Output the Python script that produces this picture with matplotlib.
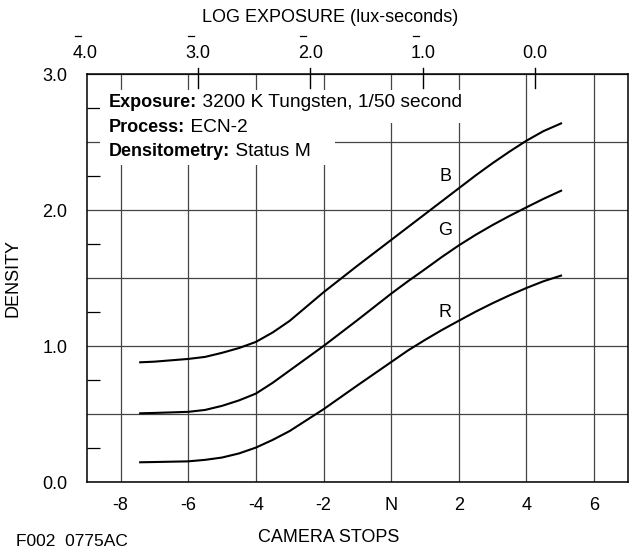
import matplotlib
matplotlib.use('Agg')
import matplotlib.pyplot as plt
from matplotlib.patches import Rectangle
import matplotlib.transforms as mtransforms
import numpy as np

plt.rcParams.update({'font.family': ['Liberation Sans', 'DejaVu Sans'], 'font.size': 13})
INK = '#000000'; GRID = '#444444'
FS = 13

# characteristic curves (camera stops -> density)
stops = [-7.45, -7, -6, -5.5, -5, -4.5, -4, -3.5, -3, -2.5, -2, -1, 0, 0.5, 1, 1.5, 2, 2.5, 3, 3.5, 4, 4.5, 5.05]
dens_b = [0.88, 0.885, 0.905, 0.92, 0.95, 0.985, 1.03, 1.10, 1.185, 1.29, 1.395, 1.59, 1.78, 1.875, 1.97, 2.065,
          2.16, 2.255, 2.345, 2.43, 2.51, 2.58, 2.64]
dens_g = [0.505, 0.508, 0.516, 0.53, 0.56, 0.60, 0.65, 0.73, 0.82, 0.91, 1.00, 1.19, 1.385, 1.477, 1.565, 1.655,
          1.74, 1.818, 1.89, 1.957, 2.02, 2.082, 2.145]
dens_r = [0.145, 0.147, 0.152, 0.163, 0.18, 0.21, 0.253, 0.31, 0.375, 0.455, 0.535, 0.71, 0.882, 0.968, 1.045, 1.118,
          1.186, 1.253, 1.315, 1.373, 1.427, 1.476, 1.52]
curve_names = ['B', 'G', 'R']
label_pos = [(1.6, 2.25), (1.6, 1.85), (1.6, 1.25)]

stop_ticks = [-8, -6, -4, -2, 0, 2, 4, 6]
stop_labels = ['-8', '-6', '-4', '-2', 'N', '2', '4', '6']
dens_ticks = [0, 0.5, 1, 1.5, 2, 2.5, 3]
dens_labels = ['0.0', '', '1.0', '', '2.0', '', '3.0']
log_exp = [-4, -3, -2, -1, 0]
log_labels = ['4.0', '3.0', '2.0', '1.0', '0.0']
log_at_N = -1.28  # log exposure at normal exposure

fig = plt.figure(figsize=(6.29, 5.5), dpi=100)
ax = fig.add_axes([0.1378, 0.1236, 0.8606, 0.7418])
ax.set_xlim(-9, 7); ax.set_ylim(0, 3)
for s in ax.spines.values():
    s.set_linewidth(1.1); s.set_color(INK)

ax.set_xticks(stop_ticks); ax.set_xticklabels(stop_labels)
ax.set_yticks(dens_ticks); ax.set_yticklabels(dens_labels)
ax.set_yticks(np.arange(0.25, 3, 0.5), minor=True)
ax.tick_params(axis='x', length=0, pad=11, labelsize=FS)
ax.tick_params(axis='y', which='major', length=0, pad=14, labelsize=FS)
ax.tick_params(axis='y', which='minor', direction='in', length=9.4, width=0.9, color=INK)
ax.grid(True, which='major', color=GRID, linewidth=0.9)
ax.set_axisbelow(True)

for d, name, (lx, ly) in zip([dens_b, dens_g, dens_r], curve_names, label_pos):
    ax.plot(stops, d, color=INK, linewidth=1.5, zorder=3, solid_capstyle='butt')
    ax.text(lx, ly, name, ha='center', va='center', fontsize=FS, zorder=4)

# white boxes behind the notes
ax.add_patch(Rectangle((0.0246, 0.88), 0.692, 0.081, transform=ax.transAxes,
                       facecolor='white', edgecolor='none', zorder=1.5))
ax.add_patch(Rectangle((0.0246, 0.777), 0.434, 0.105, transform=ax.transAxes,
                       facecolor='white', edgecolor='none', zorder=1.5))
notes = [('Exposure:', ' 3200 K Tungsten, 1/50 second', 0.929),
         ('Process:', ' ECN-2', 0.868),
         ('Densitometry:', ' Status M', 0.809)]
for bold, rest, yy in notes:
    t = ax.text(0.04, yy, bold, transform=ax.transAxes, fontweight='bold',
                fontsize=13, va='center', ha='left', zorder=4)
    ax.annotate(rest, xy=(1, 0), xycoords=t, va='bottom', ha='left',
                fontsize=13.8, zorder=4)

# top log exposure scale
trans = mtransforms.blended_transform_factory(ax.transData, ax.transAxes)
for lv, lab in zip(log_exp, log_labels):
    xs = (lv - log_at_N) / np.log10(2)
    if -9 < xs < 7:
        ax.plot([xs, xs], [1 - 14 / 408, 1 + 6 / 408], transform=trans, color=INK,
                linewidth=1.0, clip_on=False, zorder=5)
    ax.text(xs, 1 + 21 / 408, lab, transform=trans, ha='center', va='center', fontsize=FS)
    if lv < 0:
        bx = xs - 7 / 33.9
        ax.plot([bx - 3 / 33.9, bx + 3 / 33.9], [1 + 38 / 408] * 2, transform=trans,
                color=INK, linewidth=0.9, clip_on=False)

fig.text(0.525, 1 - 18 / 550, 'LOG EXPOSURE (lux-seconds)', ha='center', va='center', fontsize=FS)
fig.text(0.522, 1 - 538 / 550, 'CAMERA STOPS', ha='center', va='center', fontsize=FS)
fig.text(0.02, 1 - 278 / 550, 'DENSITY', rotation=90, ha='center', va='center', fontsize=FS)
fig.text(0.025, 0.002, 'F002  0775AC', ha='left', va='bottom', fontsize=12.5)

fig.savefig('out.png', dpi=100)
